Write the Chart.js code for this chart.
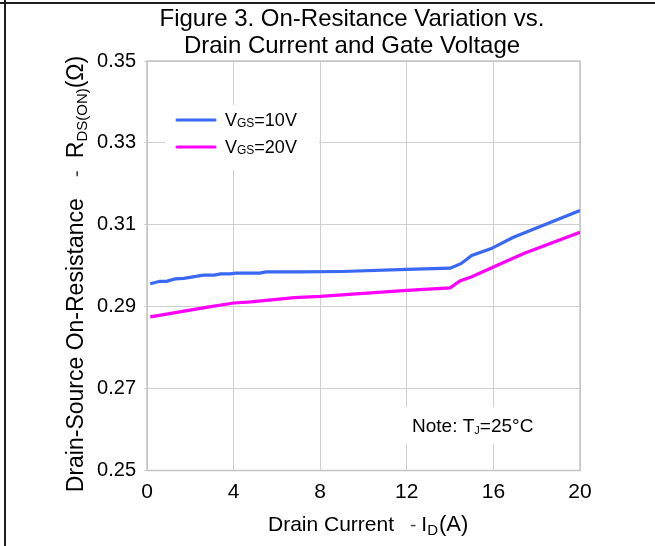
<!DOCTYPE html>
<html>
<head>
<meta charset="utf-8">
<script src="https://cdn.jsdelivr.net/npm/chart.js@4"></script>
<style>
html,body{margin:0;padding:0;background:#fff;}
#wrap{width:655px;height:546px;}
</style>
</head>
<body>
<div id="wrap"><canvas id="c" width="655" height="546"></canvas></div>
<script>
// ---- data ----
const xTicks = [0, 4, 8, 12, 16, 20];
const yTicks = [0.25, 0.27, 0.29, 0.31, 0.33, 0.35];
const seriesNames = ['VGS=10V', 'VGS=20V'];
const vgs10X = [0.15, 0.6, 0.9, 1.3, 1.7, 2.6, 3.1, 3.4, 3.85, 4.1, 5.2, 5.5, 7.0, 9.0, 12, 14, 14.5, 15, 15.9, 16.9, 20];
const vgs10Y = [0.2956, 0.2962, 0.2962, 0.2968, 0.2969, 0.2977, 0.2977, 0.2980, 0.2980, 0.2982, 0.2982, 0.2985, 0.2985, 0.2986, 0.2991, 0.2994, 0.3005, 0.3025, 0.3042, 0.3069, 0.3135];
const vgs20X = [0.15, 2.8, 4.0, 4.8, 6.8, 8, 12, 14, 14.45, 15, 16, 17.4, 20];
const vgs20Y = [0.2875, 0.2899, 0.2909, 0.2912, 0.2922, 0.2925, 0.2940, 0.2946, 0.2963, 0.2973, 0.2997, 0.3030, 0.3082];

const FONT = '"Liberation Sans", Arial, Helvetica, sans-serif';
const BLUE = '#3968f4';
const MAGENTA = '#ff00ff';

function pts(xs, ys) { return xs.map((x, i) => ({x: x, y: ys[i]})); }

function measureRuns(ctx, parts) {
  let w = 0;
  parts.forEach(p => { if (p.gap) { w += p.gap; return; } ctx.font = p.size + 'px ' + FONT; w += ctx.measureText(p.t).width; });
  return w;
}
function drawRuns(ctx, x, y, parts, color) {
  ctx.fillStyle = color || '#000';
  ctx.textBaseline = 'alphabetic';
  ctx.textAlign = 'left';
  parts.forEach(p => {
    if (p.gap) { x += p.gap; return; }
    ctx.font = p.size + 'px ' + FONT;
    ctx.fillStyle = p.color || color || '#000';
    ctx.fillText(p.t, x, y + (p.dy || 0));
    x += ctx.measureText(p.t).width;
  });
}

const decor = {
  id: 'decor',
  beforeDatasetsDraw(chart) {
    const ctx = chart.ctx, a = chart.chartArea;
    ctx.save();
    ctx.fillStyle = '#fff';
    ctx.fillRect(165, 105, 154, 65);
    ctx.fillRect(398, 407, 177, 37);
    ctx.strokeStyle = '#c4c4c4';
    ctx.lineWidth = 1.5;
    ctx.strokeRect(a.left, a.top, a.right - a.left, a.bottom - a.top);
    ctx.restore();
  },
  afterDraw(chart) {
    const ctx = chart.ctx;
    ctx.save();
    ctx.fillStyle = '#1e1e1e';
    ctx.fillRect(0, 2, 655, 2);
    ctx.fillRect(4, 0, 2, 546);

    ctx.fillStyle = '#000';
    ctx.font = '24px ' + FONT;
    ctx.textAlign = 'center';
    ctx.textBaseline = 'alphabetic';
    ctx.fillText('Figure 3. On-Resitance Variation vs.', 352, 26);
    ctx.fillText('Drain Current and Gate Voltage', 352, 53);

    const xt = [
      {t: 'Drain Current', size: 21}, {gap: 16}, {t: '-', size: 19, color: '#444'}, {gap: 5},
      {t: 'I', size: 21}, {t: 'D', size: 15, dy: 4}, {gap: 1}, {t: '(A)', size: 22}
    ];
    drawRuns(ctx, 268, 531, xt, '#000');

    const yt = [
      {t: 'Drain-Source On-Resistance', size: 23}, {gap: 21}, {t: '-', size: 21, color: '#444'}, {gap: 12},
      {t: 'R', size: 23}, {t: 'DS(ON)', size: 15, dy: 4}, {t: '(\u03A9)', size: 23}
    ];
    const yw = measureRuns(ctx, yt);
    ctx.save();
    ctx.translate(83, 274);
    ctx.rotate(-Math.PI / 2);
    drawRuns(ctx, -yw / 2, 0, yt, '#000');
    ctx.restore();

    const legend = [{c: BLUE, y: 120, n: '10V'}, {c: MAGENTA, y: 147, n: '20V'}];
    legend.forEach(l => {
      ctx.strokeStyle = l.c;
      ctx.lineWidth = 3;
      ctx.lineCap = 'round';
      ctx.beginPath();
      ctx.moveTo(177, l.y);
      ctx.lineTo(215, l.y);
      ctx.stroke();
      drawRuns(ctx, 225, l.y + 6, [{t: 'V', size: 18}, {t: 'GS', size: 12, dy: 1}, {t: '=' + l.n, size: 18}], '#000');
    });

    drawRuns(ctx, 412, 432, [{t: 'Note: T', size: 19}, {t: 'J', size: 11, dy: 2}, {t: '=25\u00B0C', size: 19}], '#000');
    ctx.restore();
  }
};

new Chart(document.getElementById('c'), {
  type: 'line',
  data: {
    datasets: [
      {label: seriesNames[0], data: pts(vgs10X, vgs10Y), borderColor: BLUE, borderWidth: 3.2, pointRadius: 0, tension: 0, fill: false},
      {label: seriesNames[1], data: pts(vgs20X, vgs20Y), borderColor: MAGENTA, borderWidth: 3.2, pointRadius: 0, tension: 0, fill: false}
    ]
  },
  options: {
    responsive: false,
    devicePixelRatio: 1,
    animation: false,
    layout: {padding: {left: 0, right: 75, top: 61, bottom: 0}},
    plugins: {legend: {display: false}, title: {display: false}, tooltip: {enabled: false}},
    scales: {
      x: {
        type: 'linear', min: 0, max: 20,
        afterBuildTicks: s => { s.ticks = xTicks.map(v => ({value: v})); },
        afterFit: s => { s.height = 75.5; },
        ticks: {color: '#000', font: {family: FONT, size: 21}, padding: 9, maxRotation: 0},
        grid: {color: '#cfcfcf', lineWidth: 1, drawTicks: false},
        border: {display: false}
      },
      y: {
        type: 'linear', min: 0.25, max: 0.35,
        afterBuildTicks: s => { s.ticks = yTicks.map(v => ({value: v})); },
        afterFit: s => { s.width = 147; },
        ticks: {color: '#000', font: {family: FONT, size: 20}, padding: 8, callback: v => v.toFixed(2)},
        grid: {color: '#cfcfcf', lineWidth: 1, tickLength: 3},
        border: {display: false}
      }
    }
  },
  plugins: [decor]
});
</script>
</body>
</html>
